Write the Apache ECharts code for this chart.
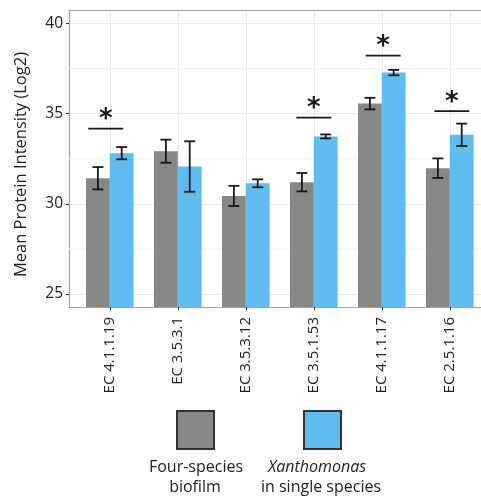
<!DOCTYPE html>
<html><head><meta charset="utf-8">
<script src="https://cdn.jsdelivr.net/npm/echarts@6/dist/echarts.min.js"></script>
<style>html,body{margin:0;padding:0;background:#fff}#c{width:481px;height:498px}</style>
</head><body><div id="c"></div>
<script>
const categories = ['EC 4.1.1.19','EC 3.5.3.1','EC 3.5.3.12','EC 3.5.1.53','EC 4.1.1.17','EC 2.5.1.16'];
const biofilmMean = [31.42, 32.92, 30.44, 31.20, 35.56, 31.98];
const biofilmErr  = [0.62, 0.64, 0.56, 0.51, 0.32, 0.54];
const singleMean  = [32.81, 32.07, 31.14, 33.74, 37.28, 33.83];
const singleErr   = [0.34, 1.40, 0.22, 0.11, 0.15, 0.62];
const sigGroup    = [1, 4, 5, 6];
const sigShift    = [-0.06, 0, 0.02, 0.03];
const sigLevel    = [34.17, 34.78, 38.22, 35.14];
const yTicks      = [25, 30, 35, 40];
const yMinorTicks = [27.5, 32.5, 37.5];
const xTicks      = categories.map((c, i) => i + 1);
const seriesNames = ['Four-species biofilm', 'Xanthomonas in single species'];

const FONT = 'Open Sans';
const GRAY = '#878787', BLUE = '#60bbee';
const HALF = 0.175;

const chart = echarts.init(document.getElementById('c'), null, {renderer: 'canvas'});

function errSeries(means, errs, offset) {
  return {
    type: 'custom', silent: true, z: 5,
    data: means.map((m, i) => [i + 1, m - errs[i], m + errs[i]]),
    encode: {x: 0, y: [1, 2]},
    renderItem(params, api) {
      const x = api.value(0) + offset;
      const lo = api.coord([x, api.value(1)]);
      const hi = api.coord([x, api.value(2)]);
      const cap = 5.5;
      const style = {stroke: '#1a1a1a', lineWidth: 1.8};
      return {type: 'group', children: [
        {type: 'line', shape: {x1: lo[0], y1: lo[1], x2: hi[0], y2: hi[1]}, style},
        {type: 'line', shape: {x1: lo[0] - cap, y1: lo[1], x2: lo[0] + cap, y2: lo[1]}, style},
        {type: 'line', shape: {x1: hi[0] - cap, y1: hi[1], x2: hi[0] + cap, y2: hi[1]}, style}
      ]};
    }
  };
}

const option = {
  animation: false,
  backgroundColor: '#fff',
  textStyle: {fontFamily: FONT},
  grid: {left: 69, top: 10, width: 421.6, height: 297, outerBoundsMode: 'none', containLabel: false, show: false},
  xAxis: [{
    type: 'value', min: 0.4, max: 6.6,
    axisLine: {show: true, onZero: false, lineStyle: {color: '#a3a3a3', width: 1.2}},
    axisTick: {show: true, customValues: xTicks, length: 3, lineStyle: {color: '#333'}},
    axisLabel: {customValues: xTicks, rotate: 90, margin: 10, fontSize: 15, color: '#222', fontFamily: FONT,
      formatter: v => categories[Math.round(v) - 1]},
    splitLine: {show: true, lineStyle: {color: '#ebebeb', width: 1}}
  }, {
    type: 'value', min: 0.4, max: 6.6, position: 'top',
    axisLine: {show: true, onZero: false, lineStyle: {color: '#a3a3a3', width: 1.2}},
    axisTick: {show: false}, axisLabel: {show: false}, splitLine: {show: false}
  }],
  yAxis: {
    type: 'value', min: 24.28, max: 40.75,
    name: 'Mean Protein Intensity (Log2)', nameLocation: 'middle', nameGap: 39,
    nameTextStyle: {fontSize: 16.5, color: '#222', fontFamily: FONT, padding: [0, 12, 0, 0]},
    axisLine: {show: true, lineStyle: {color: '#a3a3a3', width: 1.2}},
    axisTick: {show: true, customValues: yTicks, length: 3, lineStyle: {color: '#333'}},
    axisLabel: {customValues: yTicks, fontSize: 15.5, color: '#222', margin: 6, fontFamily: FONT},
    splitLine: {show: true, lineStyle: {color: '#ebebeb', width: 1}}
  },
  legend: [
    {data: [seriesNames[0]], left: 176, top: 410, padding: 0, itemWidth: 37, itemHeight: 38, icon: 'rect', formatter: () => '',
     itemStyle: {borderColor: '#333', borderWidth: 2}, selectedMode: false},
    {data: [seriesNames[1]], left: 303, top: 410, padding: 0, itemWidth: 37, itemHeight: 38, icon: 'rect', formatter: () => '',
     itemStyle: {borderColor: '#333', borderWidth: 2}, selectedMode: false}
  ],
  graphic: [
    {type: 'text', style: {text: 'Four-species', x: 196, y: 459, fontSize: 16, fontFamily: FONT, fill: '#222', textAlign: 'center'}},
    {type: 'text', style: {text: 'biofilm', x: 195, y: 479, fontSize: 16, fontFamily: FONT, fill: '#222', textAlign: 'center'}},
    {type: 'text', style: {text: 'Xanthomonas', x: 317, y: 459, fontSize: 16, fontStyle: 'italic', fontFamily: FONT, fill: '#222', textAlign: 'center'}},
    {type: 'text', style: {text: 'in single species', x: 321, y: 479, fontSize: 16, fontFamily: FONT, fill: '#222', textAlign: 'center'}}
  ],
  series: [
    {
      type: 'custom', silent: true, z: 1,
      data: yMinorTicks.map(v => [v]),
      encode: {y: 0},
      renderItem(params, api) {
        const cs = params.coordSys;
        const y = api.coord([1, api.value(0)])[1];
        return {type: 'line', shape: {x1: cs.x, y1: y, x2: cs.x + cs.width, y2: y}, style: {stroke: '#f3f3f3', lineWidth: 1}};
      }
    },
    {name: seriesNames[0], type: 'bar', z: 2, barWidth: 23.8, barGap: '0%',
     data: biofilmMean.map((v, i) => [i + 1, v]), itemStyle: {color: GRAY}},
    {name: seriesNames[1], type: 'bar', z: 2, barWidth: 23.8, barGap: '0%',
     data: singleMean.map((v, i) => [i + 1, v]), itemStyle: {color: BLUE}},
    errSeries(biofilmMean, biofilmErr, -HALF),
    errSeries(singleMean, singleErr, HALF),
    {
      type: 'custom', silent: true, z: 6,
      data: sigGroup.map((g, i) => [g + sigShift[i], sigLevel[i]]),
      encode: {x: 0, y: 1},
      renderItem(params, api) {
        const a = api.coord([api.value(0) - 0.257, api.value(1)]);
        const b = api.coord([api.value(0) + 0.257, api.value(1)]);
        return {type: 'group', children: [
          {type: 'line', shape: {x1: a[0], y1: a[1], x2: b[0], y2: b[1]}, style: {stroke: '#1a1a1a', lineWidth: 1.8}},
          {type: 'text', style: {text: '*', x: (a[0] + b[0]) / 2, y: a[1] + 5, fontSize: 26, fontWeight: 'bold', fontFamily: 'DejaVu Sans', fill: '#1a1a1a', textAlign: 'center', textVerticalAlign: 'bottom'}}
        ]};
      }
    }
  ]
};
chart.setOption(option);
</script>
</body></html>
